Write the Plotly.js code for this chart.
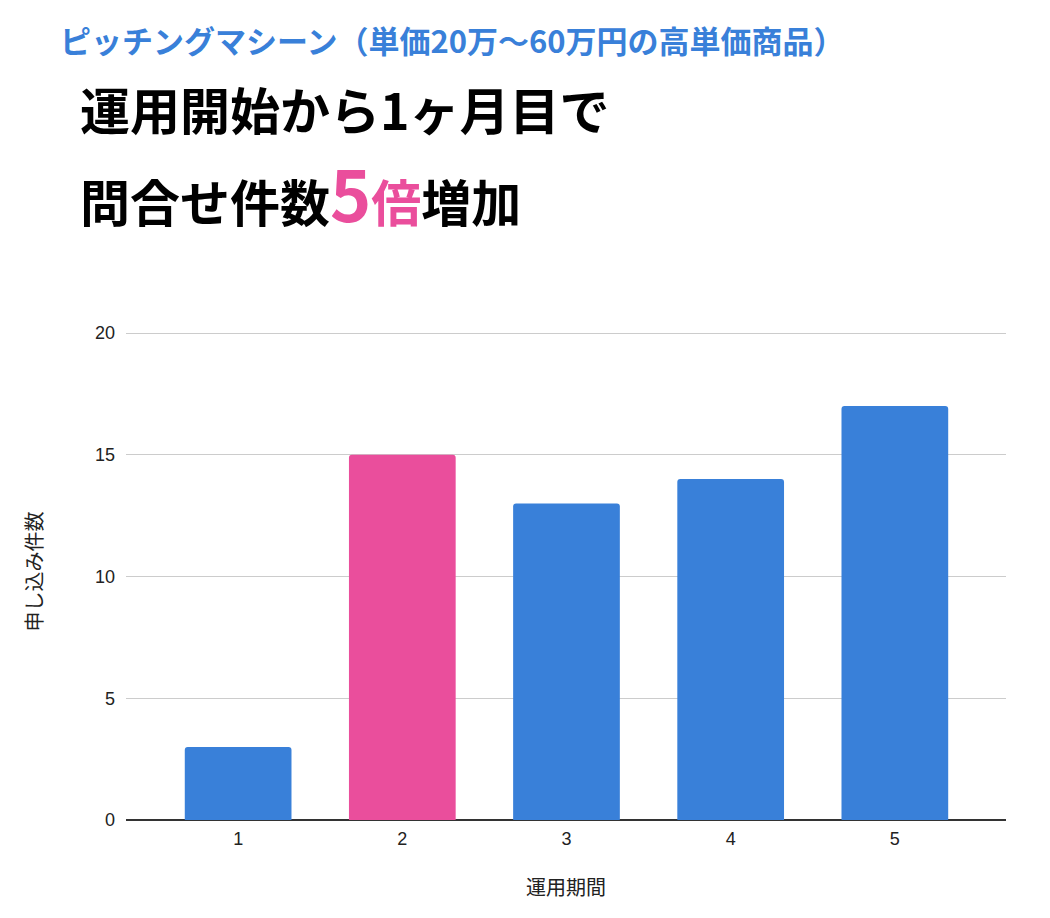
<!DOCTYPE html>
<html>
<head>
<meta charset="utf-8">
<script src="https://cdn.plot.ly/plotly-3.0.1.min.js"></script>
<style>html,body{margin:0;padding:0;background:#fff;}#chart{width:1050px;height:918px;}</style>
</head>
<body>
<div id="chart"></div>
<script>
// Data
const periods = [1, 2, 3, 4, 5];
const applications = [3, 15, 13, 14, 17];
const highlightPeriod = 2;
const yTicks = [0, 5, 10, 15, 20];

const subtitleText = 'ピッチングマシーン（単価20万〜60万円の高単価商品）';
const titleLine1 = '運用開始から1ヶ月目で';
const titleLine2a = '問合せ件数';
const titleLine2b = '5';
const titleLine2c = '倍';
const titleLine2d = '増加';
const xTitle = '運用期間';
const yTitle = '申し込み件数';

const BLUE = '#3980d9';
const PINK = '#ea4e9c';
const barColors = periods.map(p => p === highlightPeriod ? PINK : BLUE);

// Plot box in pixels (20 sits at y=333, 0 at y=820)
const L = 126, R = 1006, TOP20 = 333, B = 820, T = 323;
const W = R - L, H = B - T;
const perUnit = (B - TOP20) / 20;
const yMax = 20 + (TOP20 - T) / perUnit;
const px = x => (x - L) / W;
const py = y => (B - y) / H;

const jp = '"Noto Sans CJK JP", "Noto Sans", sans-serif';
const arial = 'Arial, "Liberation Sans", sans-serif';

const trace = {
  type: 'bar',
  x: periods,
  y: applications,
  width: 0.65,
  marker: { color: barColors, cornerradius: 3, line: { width: 0 } },
  hoverinfo: 'x+y'
};

const layout = {
  width: 1050,
  height: 918,
  margin: { l: L, r: 1050 - R, t: T, b: 918 - B, pad: 0 },
  paper_bgcolor: '#ffffff',
  plot_bgcolor: '#ffffff',
  showlegend: false,
  xaxis: {
    range: [0.317, 5.677],
    tickmode: 'array',
    tickvals: periods,
    ticktext: periods.map(String),
    showgrid: false,
    zeroline: false,
    showline: false,
    ticks: '',
    ticklabelstandoff: 6,
    tickfont: { family: arial, size: 18, color: '#222' },
    title: { text: xTitle, font: { family: jp, size: 20, color: '#222' }, standoff: 32 },
    fixedrange: true
  },
  yaxis: {
    range: [0, yMax],
    tickmode: 'array',
    tickvals: yTicks,
    ticktext: yTicks.map(String),
    showgrid: true,
    gridcolor: '#cccccc',
    gridwidth: 1,
    zeroline: true,
    zerolinecolor: '#333333',
    zerolinewidth: 2,
    showline: false,
    ticks: '',
    ticklabelstandoff: 10,
    tickfont: { family: arial, size: 18, color: '#222' },
    title: { text: yTitle, font: { family: jp, size: 20, color: '#222' }, standoff: 46 },
    fixedrange: true
  },
  annotations: [
    {
      xref: 'paper', yref: 'paper', x: px(58), y: py(40),
      xanchor: 'left', yanchor: 'middle', showarrow: false,
      text: '<b>' + subtitleText + '</b>',
      font: { family: jp, size: 31, color: BLUE }
    },
    {
      xref: 'paper', yref: 'paper', x: px(78), y: py(108),
      xanchor: 'left', yanchor: 'middle', showarrow: false,
      text: '<b>' + titleLine1 + '</b>',
      font: { family: jp, size: 50, color: '#000' }
    },
    {
      xref: 'paper', yref: 'paper', x: px(78), y: py(192),
      xanchor: 'left', yanchor: 'middle', showarrow: false,
      text: '<b>' + titleLine2a + '<span style="color:' + PINK + ';font-size:70px">' + titleLine2b + '</span><span style="color:' + PINK + '">' + titleLine2c + '</span>' + titleLine2d + '</b>',
      font: { family: jp, size: 50, color: '#000' }
    }
  ]
};

Plotly.newPlot('chart', [trace], layout, { displayModeBar: false, staticPlot: true });
</script>
</body>
</html>
